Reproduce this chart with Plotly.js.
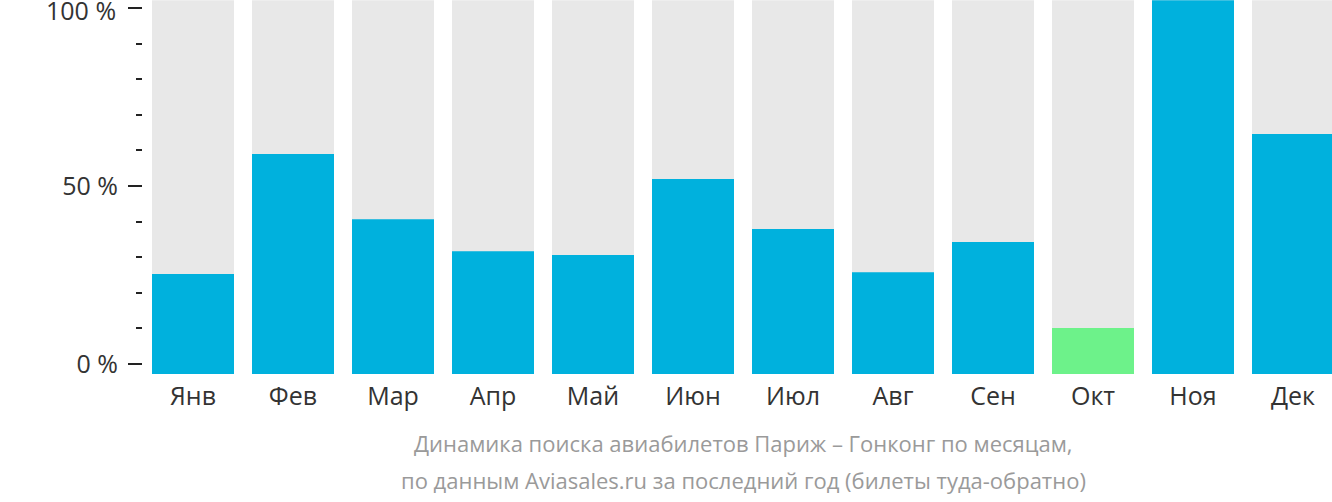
<!DOCTYPE html>
<html>
<head>
<meta charset="utf-8">
<script src="https://cdn.plot.ly/plotly-3.0.1.min.js"></script>
<style>
  html, body { margin: 0; padding: 0; background: #fff; }
  #chart { width: 1332px; height: 502px; }
</style>
</head>
<body>
<div id="chart"></div>
<script>
// Data (values in % on the y axis)
const months = ["Янв", "Фев", "Мар", "Апр", "Май", "Июн", "Июл", "Авг", "Сен", "Окт", "Ноя", "Дек"];
const searchShare = [25.3, 59.0, 40.7, 31.7, 30.6, 52.0, 37.9, 25.8, 34.3, 10.1, 102.2, 64.6];
const fullScale = [102.2, 102.2, 102.2, 102.2, 102.2, 102.2, 102.2, 102.2, 102.2, 102.2, 102.2, 102.2];
const lowestMonth = "Окт";
const yTickValues = [0, 50, 100];
const yTickLabels = ["0 %", "50 %", "100 %"];
const titleLines = [
  "Динамика поиска авиабилетов Париж – Гонконг по месяцам,",
  "по данным Aviasales.ru за последний год (билеты туда-обратно)"
];

const BLUE = "#00b1dd";
const GREEN = "#6df28a";
const GRAY = "#e8e8e8";
const BASE = -2.8;
const TICK_FONT = { family: "Open Sans, sans-serif", size: 25, color: "#333333" };

const barColors = months.map(m => m === lowestMonth ? GREEN : BLUE);

const traces = [
  {
    type: "bar",
    x: months,
    y: fullScale.map(v => v - BASE),
    base: BASE,
    marker: { color: GRAY },
    hoverinfo: "skip",
    showlegend: false
  },
  {
    type: "bar",
    x: months,
    y: searchShare.map(v => v - BASE),
    base: BASE,
    marker: { color: barColors },
    hoverinfo: "skip",
    showlegend: false
  }
];

// the top label sits a little lower than its tick so that it stays inside the picture
const lastIdx = yTickValues.length - 1;
const axisTickText = yTickLabels.map((t, i) => i === lastIdx ? "" : t);

const layout = {
  width: 1332,
  height: 502,
  margin: { l: 143, r: 0, t: 0, b: 128, pad: 0 },
  paper_bgcolor: "#ffffff",
  plot_bgcolor: "#ffffff",
  barmode: "overlay",
  bargap: 0.18,
  font: { family: "Open Sans, sans-serif", size: 24, color: "#333333" },
  xaxis: {
    type: "category",
    range: [-0.5, 11.39],
    showgrid: false,
    zeroline: false,
    showline: false,
    ticks: "",
    ticklabelstandoff: 5,
    tickfont: TICK_FONT,
    fixedrange: true
  },
  yaxis: {
    range: [BASE, 102.25],
    tickmode: "array",
    tickvals: yTickValues,
    ticktext: axisTickText,
    ticklabeloverflow: "allow",
    showgrid: false,
    zeroline: false,
    showline: false,
    ticks: "outside",
    ticklen: 14,
    tickwidth: 2,
    tickcolor: "#222222",
    ticklabelstandoff: 5,
    minor: { dtick: 10, tick0: 0, ticks: "outside", ticklen: 6, tickwidth: 2, tickcolor: "#222222", showgrid: false },
    tickfont: TICK_FONT,
    fixedrange: true
  },
  annotations: [
    {
      xref: "paper", yref: "y",
      x: 0, y: yTickValues[lastIdx], xshift: -25, yshift: -2,
      xanchor: "right", yanchor: "middle",
      text: yTickLabels[lastIdx],
      showarrow: false,
      font: TICK_FONT
    },
    {
      xref: "x", yref: "paper",
      x: 5.5, y: 0, yshift: -69,
      xanchor: "center", yanchor: "middle",
      text: titleLines[0],
      showarrow: false,
      font: { size: 22, color: "#9a9a9a" }
    },
    {
      xref: "x", yref: "paper",
      x: 5.5, y: 0, yshift: -106,
      xanchor: "center", yanchor: "middle",
      text: titleLines[1],
      showarrow: false,
      font: { size: 22, color: "#9a9a9a" }
    }
  ]
};

Plotly.newPlot("chart", traces, layout, { displayModeBar: false, staticPlot: true });
</script>
</body>
</html>
